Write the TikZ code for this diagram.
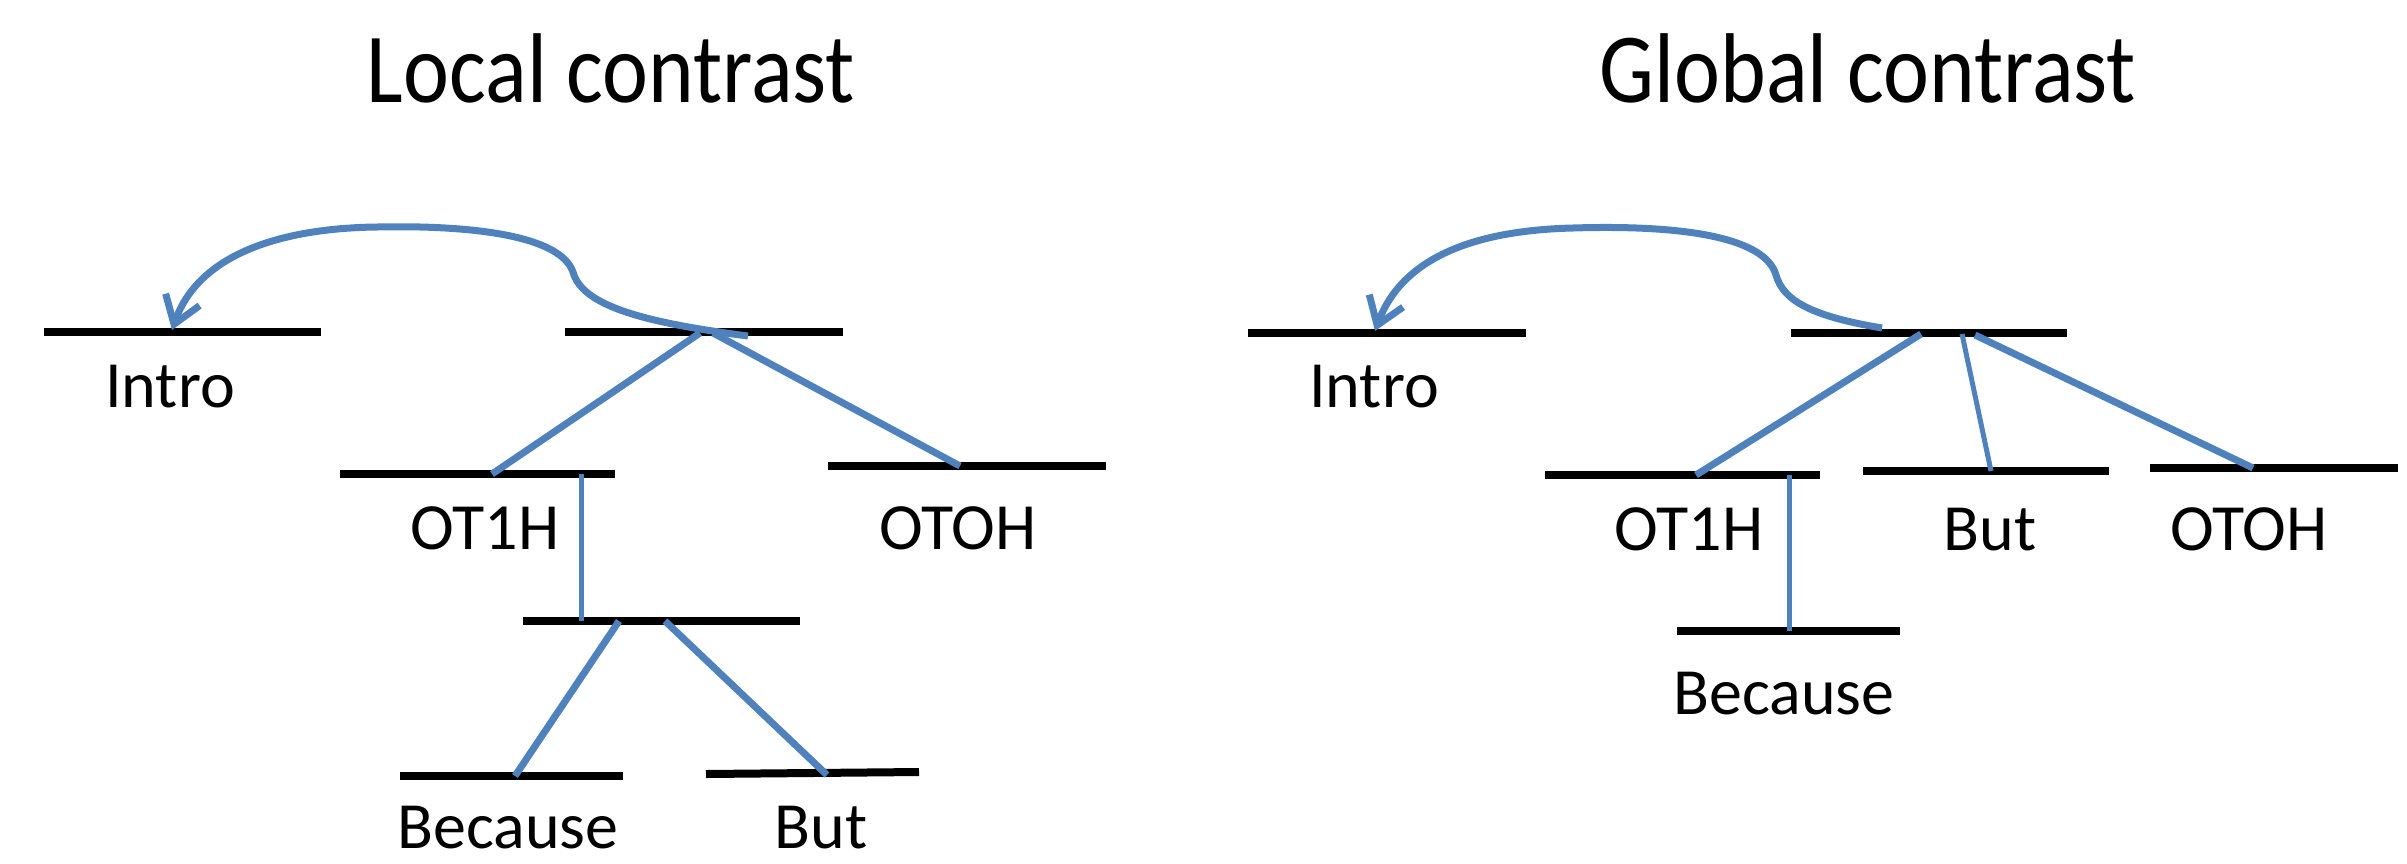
\documentclass[tikz,border=0pt]{standalone}
\usepackage{fontspec}
\setmainfont{Carlito}
\usetikzlibrary{arrows.meta}
\definecolor{officeblue}{HTML}{4F81BD}
\tikzset{
  barline/.style={line width=8pt, black},
  edge/.style={line width=7pt, officeblue},
  thinedge/.style={line width=5pt, officeblue},
  curvearrow/.style={line width=7pt, officeblue, -{Straight Barb[length=26pt,width=36pt,line width=7pt]}},
  lab/.style={anchor=base, inner sep=0pt, font=\fontsize{66}{70}\selectfont},
  ttl/.style={anchor=base, inner sep=0pt, font=\fontsize{87}{92}\selectfont},
}
\begin{document}
\begin{tikzpicture}[x=1pt,y=-1pt]
\useasboundingbox (0,0) rectangle (2407,863);
% titles
\node[ttl] (t1) at (611,102) {\scalebox{1}[1.14]{Local contrast}};
\node[ttl] (t2) at (1868,102) {\scalebox{1}[1.14]{Global contrast}};
% ---------- left tree: bars ----------
\coordinate (lIntroL) at (44,332); \coordinate (lIntroR) at (321,332);
\coordinate (lRootL) at (565,332); \coordinate (lRootR) at (843,332);
\coordinate (lOtoneL) at (340,474); \coordinate (lOtoneR) at (615,474);
\coordinate (lOtohL) at (828,466); \coordinate (lOtohR) at (1106,466);
\coordinate (lMidL) at (523,621); \coordinate (lMidR) at (800,621);
\coordinate (lBecL) at (400,776); \coordinate (lBecR) at (623,776);
\coordinate (lButL) at (706,774); \coordinate (lButR) at (919,772);
\foreach \a/\b in {lIntroL/lIntroR,lRootL/lRootR,lOtoneL/lOtoneR,lOtohL/lOtohR,lMidL/lMidR,lBecL/lBecR,lButL/lButR}
  \draw[barline] (\a) -- (\b);
% connector ends
\coordinate (lRootA) at (700,333);
\coordinate (lRootB) at (713,333);
\coordinate (lRootC) at (748,336);
\coordinate (lOtoneA) at (492,474);
\coordinate (lOtoneB) at (581,474);
\coordinate (lOtohA) at (960,466);
\coordinate (lMidA) at (581,621);
\coordinate (lMidB) at (619,621);
\coordinate (lMidC) at (665,621);
\coordinate (lBecA) at (515,776);
\coordinate (lButA) at (827,775);
\coordinate (lIntroA) at (172,330);
\draw[edge] (lRootA) -- (lOtoneA);
\draw[edge] (lRootB) -- (lOtohA);
\draw[thinedge] (lOtoneB) -- (lMidA);
\draw[edge] (lMidB) -- (lBecA);
\draw[edge] (lMidC) -- (lButA);
\draw[curvearrow] (lRootC) .. controls (640,322) and (582,305) .. (573,272)
  .. controls (560,235) and (470,225) .. (377,227)
  .. controls (290,228) and (200,250) .. (lIntroA);
% labels
\node[lab] (lIntro) at (170,407) {Intro};
\node[lab] (lOtone) at (485,549) {OT1H};
\node[lab] (lOtoh) at (958,549) {OTOH};
\node[lab] (lBec) at (508,848) {Because};
\node[lab] (lBut) at (821,848) {But};
% ---------- right tree: bars ----------
\coordinate (rIntroL) at (1248,333); \coordinate (rIntroR) at (1526,333);
\coordinate (rRootL) at (1791,333); \coordinate (rRootR) at (2067,333);
\coordinate (rOtoneL) at (1545,475); \coordinate (rOtoneR) at (1820,475);
\coordinate (rButL) at (1863,471); \coordinate (rButR) at (2109,471);
\coordinate (rOtohL) at (2150,468); \coordinate (rOtohR) at (2398,468);
\coordinate (rBecL) at (1677,631); \coordinate (rBecR) at (1900,631);
\foreach \a/\b in {rIntroL/rIntroR,rRootL/rRootR,rOtoneL/rOtoneR,rButL/rButR,rOtohL/rOtohR,rBecL/rBecR}
  \draw[barline] (\a) -- (\b);
\coordinate (rRootA) at (1921,334);
\coordinate (rRootB) at (1962,334);
\coordinate (rRootC) at (1975,335);
\coordinate (rRootD) at (1882,328);
\coordinate (rOtoneA) at (1696,475);
\coordinate (rOtoneB) at (1789,475);
\coordinate (rButA) at (1991,471);
\coordinate (rOtohA) at (2253,468);
\coordinate (rBecA) at (1789,631);
\coordinate (rIntroA) at (1375,331);
\draw[edge] (rRootA) -- (rOtoneA);
\draw[thinedge] (rRootB) -- (rButA);
\draw[edge] (rRootC) -- (rOtohA);
\draw[thinedge] (rOtoneB) -- (rBecA);
\draw[curvearrow] (rRootD) .. controls (1810,316) and (1783,300) .. (1776,275)
  .. controls (1764,234) and (1670,225) .. (1573,228)
  .. controls (1490,230) and (1405,250) .. (rIntroA);
\node[lab] (rIntro) at (1374,407) {Intro};
\node[lab] (rOtone) at (1689,550) {OT1H};
\node[lab] (rBut) at (1990,550) {But};
\node[lab] (rOtoh) at (2249,550) {OTOH};
\node[lab] (rBec) at (1784,714) {Because};
\end{tikzpicture}
\end{document}
